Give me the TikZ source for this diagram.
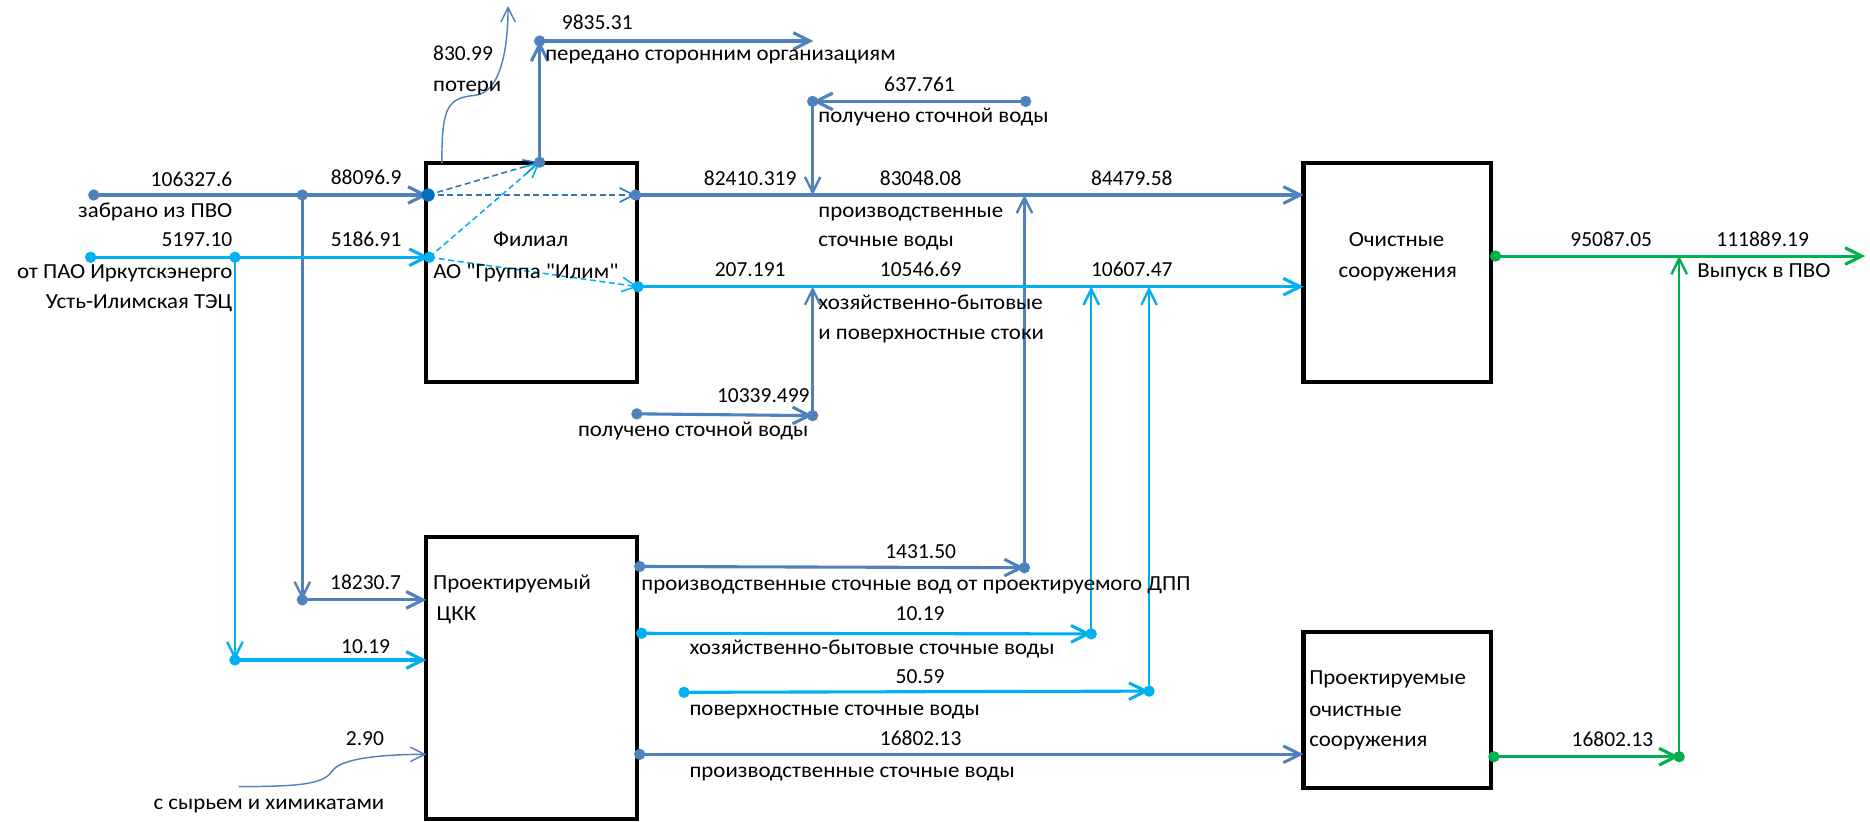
\documentclass[tikz,border=0pt]{standalone}
\usepackage{fontspec}
\setmainfont{Carlito}[Ligatures=TeXOff]
\newfontfamily\cyr{Carlito}[FakeStretch=1.065,Ligatures=TeXOff]
\usetikzlibrary{arrows.meta}
\definecolor{cD}{HTML}{4F81BD}
\definecolor{cDD}{HTML}{0070C0}
\definecolor{cL}{HTML}{00B0F0}
\definecolor{cG}{HTML}{00B050}
\definecolor{cDash}{HTML}{2E75B6}
\begin{document}
\begin{tikzpicture}[x=1pt,y=-1pt,font=\fontsize{18}{22}\selectfont,
  box/.style={draw=black,line width=3.5pt,inner sep=0pt,outer sep=0pt},
  lab/.style={inner sep=0pt,text height=0.62em,text depth=0pt},
  wl/.style={lab,font=\fontsize{18}{22}\cyr},
  fl/.style={line width=2.6pt,-{Straight Barb[length=14pt,width=14pt]}},
  vl/.style={line width=2pt,-{Straight Barb[length=13pt,width=13pt]}},
  dl/.style={line width=1.3pt,dash pattern=on 5pt off 3pt,-{Straight Barb[length=12pt,width=12pt]}},
  tl/.style={line width=1.2pt,-{Straight Barb[length=12pt,width=12pt]}},
  dot/.style={circle,inner sep=0pt,minimum size=9.5pt}]
\useasboundingbox (0,0) rectangle (1568,689);

% boxes
\node[box,minimum width=176.3pt,minimum height=183pt] (fil) at (445.65,228.5) {};
\node[box,minimum width=176.3pt,minimum height=236.2pt] (ckk) at (445.65,568.7) {};
\node[box,minimum width=157pt,minimum height=183pt] (och) at (1171.5,228.5) {};
\node[box,minimum width=157pt,minimum height=131.3pt] (poch) at (1171.5,595.35) {};

% coordinates
\coordinate (a1) at (78.6,163.5);
\coordinate (a2) at (253.5,163.5);
\coordinate (a3) at (359,163.5);
\coordinate (a4) at (253.5,503);
\coordinate (ckkA) at (357.5,503);
\coordinate (b1) at (76,215.7);
\coordinate (b2) at (197,215.7);
\coordinate (b3) at (360,215.7);
\coordinate (b4) at (197,553.4);
\coordinate (ckkB) at (357.5,553.4);
\coordinate (t1) at (452.5,136);
\coordinate (t2) at (452.5,34.4);
\coordinate (t3) at (682,34.4);
\coordinate (r1) at (533,163.5);
\coordinate (r2) at (535,240.4);
\coordinate (ochA) at (1093,163.5);
\coordinate (ochB) at (1093,240.4);
\coordinate (p1) at (681.4,85);
\coordinate (p2) at (860,85);
\coordinate (m1) at (681.4,163.5);
\coordinate (q1) at (534,347);
\coordinate (q2) at (681.4,348.5);
\coordinate (n1) at (681.4,240.4);
\coordinate (d1s) at (536.4,475);
\coordinate (d1e) at (859,476);
\coordinate (m2) at (859,163.5);
\coordinate (d2s) at (538,531);
\coordinate (d2e) at (915,531.5);
\coordinate (n2) at (915,240.4);
\coordinate (d3s) at (573.6,580.5);
\coordinate (d3e) at (963.5,579.5);
\coordinate (n3) at (963.5,240.4);
\coordinate (d4s) at (536.4,632.5);
\coordinate (pochA) at (1093,632.5);
\coordinate (g1) at (1254,214.7);
\coordinate (g4) at (1564,214.7);
\coordinate (g5) at (1408,214.7);
\coordinate (g2) at (1252.6,634.5);
\coordinate (g3) at (1408,634.5);
\coordinate (loss0) at (370.5,137);
\coordinate (loss1) at (426,5);
\coordinate (chem0) at (200,659.6);
\coordinate (ckkC) at (357.5,632.5);

% dark blue flows
\draw[fl,cD] (a1) -- (a3);
\draw[vl,cD] (a2) -- (a4);
\draw[fl,cD] (a4) -- (ckkA);
\draw[fl,cD] (t1) -- (t2);
\draw[fl,cD] (t2) -- (t3);
\draw[fl,cD] (r1) -- (ochA);
\draw[fl,cD] (p2) -- (p1);
\draw[vl,cD] (p1) -- (m1);
\draw[fl,cD] (q1) -- (q2);
\draw[vl,cD] (q2) -- (n1);
\draw[fl,cD] (d1s) -- (d1e);
\draw[vl,cD] (d1e) -- (m2);
\draw[fl,cD] (d4s) -- (pochA);
% light blue flows
\draw[fl,cL] (b1) -- (b3);
\draw[vl,cL] (b2) -- (b4);
\draw[fl,cL] (b4) -- (ckkB);
\draw[fl,cL] (r2) -- (ochB);
\draw[fl,cL] (d2s) -- (d2e);
\draw[vl,cL] (d2e) -- (n2);
\draw[fl,cL] (d3s) -- (d3e);
\draw[vl,cL] (d3e) -- (n3);
% green flows
\draw[fl,cG] (g1) -- (g4);
\draw[fl,cG] (g2) -- (g3);
\draw[vl,cG] (g3) -- (g5);
% dashed inside Filial
\draw[dl,cDash] (a3) -- (t1);
\draw[dl,cDash] (a3) -- (r1);
\draw[dl,cL] (b3) -- (t1);
\draw[dl,cL] (b3) -- (r2);
% thin curves
\draw[tl,cD] (loss0) .. controls (370.5,92) and (374,82) .. (398,80) .. controls (420,78) and (426,40) .. (loss1);
\draw[tl,cD] (chem0) .. controls (260,659.6) and (272,656) .. (279,646) .. controls (286,636) and (320,632.5) .. (ckkC);

% dots
\foreach \p in {a1,a2,a4,t1,t2,r1,p1,p2,q1,q2,d1s,d1e,d4s}
  \node[dot,fill=cD] (dot\p) at (\p) {};
\node[dot,fill=cDD,minimum size=11pt] (dota3) at (a3) {};
\foreach \p in {b1,b2,b3,b4,r2,d2s,d2e,d3s,d3e}
  \node[dot,fill=cL] (dot\p) at (\p) {};
\foreach \p in {g1,g2,g3}
  \node[dot,fill=cG] (dot\p) at (\p) {};

% labels left
\node[lab,anchor=east] (l1) at (195,153) {106327.6};
\node[lab] (l2) at (307,152) {88096.9};
\node[wl,anchor=east] (l3) at (195,179) {забрано из ПВО};
\node[lab,anchor=east] (l4) at (195,204) {5197.10};
\node[lab] (l5) at (307,204) {5186.91};
\node[wl,anchor=east] (l6) at (195,230.6) {от ПАО Иркутскэнерго};
\node[wl,anchor=east] (l7) at (195,255.7) {Усть-Илимская ТЭЦ};
\node[lab] (l8) at (306.5,491) {18230.7};
\node[lab] (l9) at (306.6,545) {10.19};
\node[lab] (l10) at (306,622) {2.90};
\node[wl] (l11) at (225.5,675.6) {с сырьем и химикатами};
% top
\node[lab,anchor=west] (l12) at (363,47.5) {830.99};
\node[wl,anchor=west] (l13) at (363,74) {потери};
\node[lab,anchor=west] (l14) at (471,22) {9835.31};
\node[wl,anchor=west] (l15) at (457,48) {передано сторонним организациям};
\node[lab] (l16) at (771,74) {637.761};
\node[wl,anchor=west] (l17) at (686,100) {получено сточной воды};
% main lines
\node[lab] (l18) at (629,152.5) {82410.319};
\node[lab] (l19) at (772,152.5) {83048.08};
\node[lab] (l20) at (949,152.5) {84479.58};
\node[wl,anchor=west] (l21) at (686,179.5) {производственные};
\node[wl,anchor=west] (l22) at (686,204) {сточные воды};
\node[lab] (l23) at (629,229) {207.191};
\node[lab] (l24) at (772,229) {10546.69};
\node[lab] (l25) at (949,229) {10607.47};
\node[wl,anchor=west] (l26) at (686,256.6) {хозяйственно-бытовые};
\node[wl,anchor=west] (l27) at (686,281.7) {и поверхностные стоки};
\node[lab,anchor=east] (l28) at (679,334) {10339.499};
\node[wl,anchor=east] (l29) at (678,363) {получено сточной воды};
% boxes text
\node[wl] (l30) at (445,204) {Филиал};
\node[wl] (l31) at (441,230.6) {АО "Группа "Илим"};
\node[wl,anchor=west] (l32) at (363,491) {Проектируемый};
\node[wl,anchor=west] (l33) at (366,517) {ЦКК};
\node[wl] (l34) at (1171,204) {Очистные};
\node[wl] (l35) at (1172,229.8) {сооружения};
\node[wl,anchor=west] (l36) at (1097.6,571) {Проектируемые};
\node[wl,anchor=west] (l37) at (1097.6,597.6) {очистные};
\node[wl,anchor=west] (l38) at (1097.6,622.7) {сооружения};
% lower flows
\node[lab] (l39) at (772,465) {1431.50};
\node[wl,anchor=west] (l40) at (537.6,492) {производственные сточные вод от проектируемого ДПП};
\node[lab] (l41) at (771.5,517) {10.19};
\node[wl,anchor=west] (l42) at (578,545.6) {хозяйственно-бытовые сточные воды};
\node[lab] (l43) at (771.5,570) {50.59};
\node[wl,anchor=west] (l44) at (578,596.7) {поверхностные сточные воды};
\node[lab] (l45) at (772,622) {16802.13};
\node[wl,anchor=west] (l46) at (578,649) {производственные сточные воды};
% green
\node[lab] (l47) at (1351,204) {95087.05};
\node[lab] (l48) at (1478,204) {111889.19};
\node[wl,anchor=west] (l49) at (1423,229.8) {Выпуск в ПВО};
\node[lab] (l50) at (1352,622.7) {16802.13};
\end{tikzpicture}
\end{document}
